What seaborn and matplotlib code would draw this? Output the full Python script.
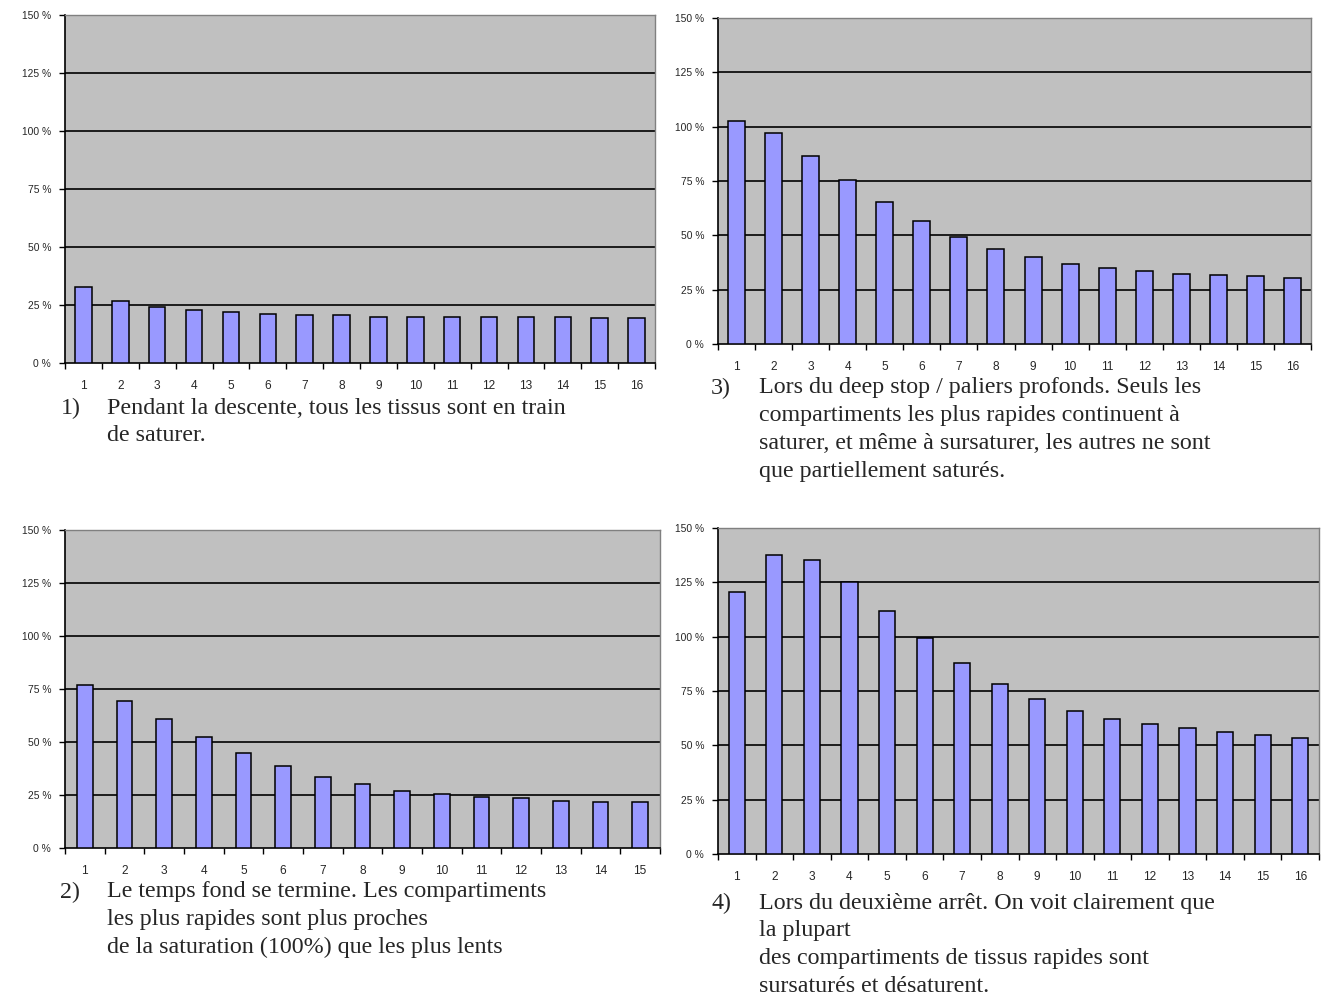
import numpy as np
import pandas as pd
import seaborn as sns
import matplotlib
matplotlib.use("Agg")
import matplotlib.pyplot as plt
from matplotlib.ticker import FixedLocator

# ---- data ----
cats16 = [str(i) for i in range(1, 17)]
cats15 = [str(i) for i in range(1, 16)]
descente = [32.7, 26.8, 24.3, 22.9, 21.8, 21.2, 20.7, 20.7, 20.0, 20.0, 20.0, 20.0, 20.0, 20.0, 19.5, 19.5]
fond = [77.0, 69.2, 60.8, 52.4, 44.6, 38.5, 33.6, 30.1, 27.0, 25.3, 24.2, 23.5, 22.4, 21.8, 21.8]
deep_stop = [102.6, 97.1, 86.7, 75.3, 65.5, 56.7, 49.4, 43.7, 39.9, 36.8, 34.8, 33.6, 32.4, 31.8, 31.1, 30.5]
arret2 = [120.7, 137.7, 135.1, 125.1, 112.0, 99.6, 88.0, 78.0, 71.1, 66.0, 62.2, 59.7, 57.9, 56.0, 54.8, 53.4]
yticks = [0, 25, 50, 75, 100, 125, 150]
ytick_labels = ["0 %", "25 %", "50 %", "75 %", "100 %", "125 %", "150 %"]

cap1 = ["Pendant la descente, tous les tissus sont en train", "de saturer."]
cap2 = ["Le temps fond se termine. Les compartiments", "les plus rapides sont plus proches",
        "de la saturation (100%) que les plus lents"]
cap3 = ["Lors du deep stop / paliers profonds. Seuls les", "compartiments les plus rapides continuent à",
        "saturer, et même à sursaturer, les autres ne sont", "que partiellement saturés."]
cap4 = ["Lors du deuxième arrêt. On voit clairement que", "la plupart",
        "des compartiments de tissus rapides sont", "sursaturés et désaturent."]

W, H = 1323, 994
sns.set_theme(style="white")
plt.rcParams['font.family'] = ['Liberation Sans', 'DejaVu Sans']
fig = plt.figure(figsize=(W / 100, H / 100), dpi=100)
fig.patch.set_facecolor("white")


def px_axes(l, t, r, b):
    return fig.add_axes([l / W, 1 - b / H, (r - l) / W, (b - t) / H])


def draw(ax, cats, vals, width):
    df = pd.DataFrame({"cat": cats, "val": vals})
    ax.set_facecolor("#C0C0C0")
    for y in yticks[1:-1]:
        ax.axhline(y, color="black", lw=1.2, zorder=1)
    sns.barplot(data=df, x="cat", y="val", ax=ax, color="#9999FF", saturation=1,
                width=width, edgecolor="black", linewidth=1.1, zorder=3)
    n = len(cats)
    ax.set_xlim(-0.5, n - 0.5)
    ax.set_ylim(0, 150)
    ax.set_yticks(yticks)
    ax.set_yticklabels(ytick_labels, fontsize=7.4)
    ax.xaxis.set_minor_locator(FixedLocator(np.arange(-0.5, n, 1.0)))
    ax.tick_params(axis="x", which="major", length=0, labelsize=8.6, pad=12)
    ax.tick_params(axis="x", which="minor", length=4, width=1, direction="out",
                   color="black", bottom=True)
    ax.tick_params(axis="y", length=4, width=1, direction="out", color="black",
                   left=True, pad=6)
    ax.set_xlabel("")
    ax.set_ylabel("")
    for s in ["left", "bottom"]:
        ax.spines[s].set_color("black")
        ax.spines[s].set_linewidth(1.2)
    for s in ["top", "right"]:
        ax.spines[s].set_color("#808080")
        ax.spines[s].set_linewidth(1.0)
    ax.grid(False)


ax1 = px_axes(65, 15, 655, 363)
draw(ax1, cats16, descente, 0.45)
ax3 = px_axes(718, 18, 1311, 344)
draw(ax3, cats16, deep_stop, 0.46)
ax2 = px_axes(65, 530, 660, 848)
draw(ax2, cats15, fond, 0.4)
ax4 = px_axes(718, 528, 1319, 854)
draw(ax4, cats16, arret2, 0.43)

serif = ['Liberation Serif', 'DejaVu Serif']


def caption(num, lines, xn, xt, y0, step=27.7):
    fig.text(xn / W, 1 - y0 / H, num, family=serif, fontsize=17.3, va="center", ha="left")
    for i, line in enumerate(lines):
        fig.text(xt / W, 1 - (y0 + i * step) / H, line, family=serif, fontsize=17.3,
                 va="center", ha="left")


caption("1)", cap1, 61, 107, 408)
caption("2)", cap2, 60, 107, 892)
caption("3)", cap3, 711, 759, 388)
caption("4)", cap4, 711, 759, 903)

fig.savefig("out.png", dpi=100, facecolor="white")
